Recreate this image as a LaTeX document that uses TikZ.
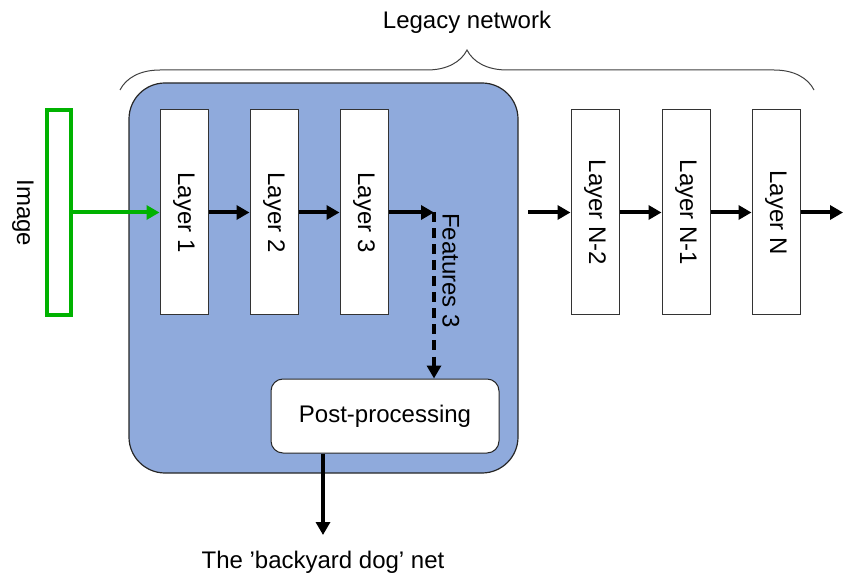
\documentclass[tikz,border=0pt]{standalone}
\usepackage{fontspec}
\setmainfont{Liberation Sans}
\usetikzlibrary{arrows.meta, positioning, decorations.pathreplacing, calc}
\definecolor{legacyblue}{RGB}{143,170,220}
\definecolor{imagegreen}{RGB}{0,178,0}

\begin{document}
\begin{tikzpicture}[
        x=1pt, y=1pt,
        font=\fontsize{24}{29}\selectfont,
        >={Triangle[length=13pt, width=14pt]},
        layer/.style={draw=black!80, fill=white, line width=1pt, minimum width=48pt, minimum height=205pt, inner sep=0pt},
        image_box/.style={draw=imagegreen, line width=3.5pt, minimum width=24pt, minimum height=205pt, inner sep=0pt},
        legacy_box/.style={draw=black!85, fill=legacyblue, line width=1.2pt, rounded corners=36pt, minimum width=389pt, minimum height=390pt},
        post_box/.style={draw=black!85, fill=white, line width=1pt, rounded corners=12pt, minimum width=228pt, minimum height=74pt},
        flow/.style={->, line width=4pt},
        feat/.style={->, line width=4pt, dash pattern=on 10pt off 6pt},
        brace_line/.style={decorate, decoration={brace, amplitude=40pt}, line width=1pt, black!75}
    ]
    \useasboundingbox (0,0) rectangle (846,579);

    \node (legacy) at (467,557) {Legacy network};
    \draw[brace_line] (120,489) -- (814,489);

    \node[legacy_box] (backyard) at (323.5,301) {};

    \node[image_box] (img) at (59,366.5) {};
    \node[rotate=-90] (imagetxt) at (23,366) {Image};

    \node[layer] (l1) at (184,366.5) {};
    \node[layer] (l2) at (274,366.5) {};
    \node[layer] (l3) at (364,366.5) {};
    \node[layer] (ln2) at (595,366.5) {};
    \node[layer] (ln1) at (686,366.5) {};
    \node[layer] (ln) at (776,366.5) {};
    \node[rotate=-90] at (l1) {Layer 1};
    \node[rotate=-90] at (l2) {Layer 2};
    \node[rotate=-90] at (l3) {Layer 3};
    \node[rotate=-90] at (ln2) {Layer N-2};
    \node[rotate=-90] at (ln1) {Layer N-1};
    \node[rotate=-90] at (ln) {Layer N};

    \node[post_box] (post) at (385,163) {Post-processing};

    \coordinate (f3) at (434,366.5);
    \coordinate (n2in) at (528,366.5);
    \coordinate (nout) at (843,366.5);
    \coordinate (out) at (323,44);

    \draw[flow, imagegreen] (img.east) -- (l1.west);
    \draw[flow] (l1.east) -- (l2.west);
    \draw[flow] (l2.east) -- (l3.west);
    \draw[flow] (l3.east) -- (f3);
    \draw[feat] (f3) -- (f3 |- post.north);
    \node[rotate=-90] (feattxt) at (451,308.5) {Features 3};

    \draw[flow] (n2in) -- (ln2.west);
    \draw[flow] (ln2.east) -- (ln1.west);
    \draw[flow] (ln1.east) -- (ln.west);
    \draw[flow] (ln.east) -- (nout);

    \draw[flow] (out |- post.south) -- (out);
    \node (dognet) at (323,17) {The 'backyard dog' net};

\end{tikzpicture}
\end{document}
